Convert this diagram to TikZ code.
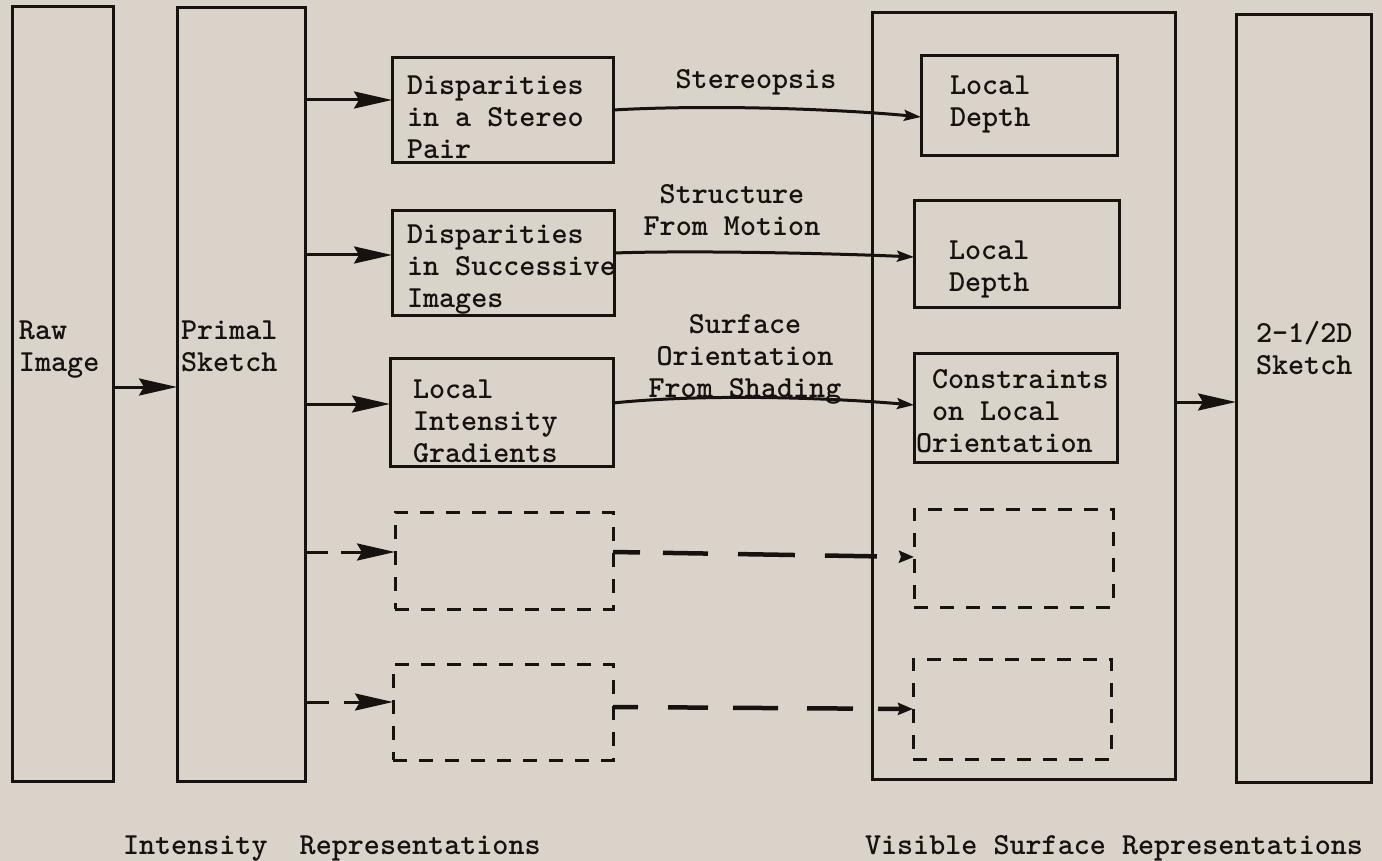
\documentclass[tikz,border=0pt]{standalone}
\usepackage{fontspec}
\newfontfamily\typew{lmmonolt10-bold}[Extension=.otf]
\usetikzlibrary{arrows.meta}
\definecolor{paper}{RGB}{217,211,202}
\definecolor{ink}{RGB}{22,18,16}
\begin{document}
\begin{tikzpicture}[x=1pt,y=-1pt,
  every node/.style={inner sep=0pt,outer sep=0pt},
  box/.style={draw=ink,line width=3pt,rectangle},
  dbox/.style={draw=ink,line width=3pt,rectangle,dash pattern=on 14pt off 12pt},
  txt/.style={font=\typew\fontsize{30.6}{32}\selectfont,text=ink,align=left,anchor=base west},
  ctxt/.style={font=\typew\fontsize{30.6}{32}\selectfont,text=ink,align=center,anchor=base},
  conn/.style={draw=ink,line width=3pt},
  bigtip/.style={-{Stealth[length=38pt,width=17pt,inset=5pt]}},
  smalltip/.style={-{Stealth[length=17pt,width=11pt,inset=3pt]}},
  tinytip/.style={-{Stealth[length=15pt,width=12pt,inset=2pt]}}
]
\fill[paper] (0,0) rectangle (1382,861);
\useasboundingbox (0,0) rectangle (1382,861);

% solid boxes
\node[box,minimum width=101pt,minimum height=774pt] (raw) at (62.5,394) {};
\node[box,minimum width=128pt,minimum height=773pt] (primal) at (241,394.5) {};
\node[box,minimum width=221pt,minimum height=105pt] (d1) at (502.5,110.5) {};
\node[box,minimum width=222pt,minimum height=104pt] (d2) at (503,263) {};
\node[box,minimum width=223pt,minimum height=108pt] (d3) at (501.5,412) {};
\node[box,minimum width=303pt,minimum height=766pt] (vis) at (1023.5,396) {};
\node[box,minimum width=196pt,minimum height=100pt] (ld1) at (1019,106) {};
\node[box,minimum width=205pt,minimum height=106pt] (ld2) at (1016.5,254) {};
\node[box,minimum width=203pt,minimum height=109pt] (con) at (1015.5,407.5) {};
\node[box,minimum width=135pt,minimum height=767pt] (sk) at (1303.5,398.5) {};

% dashed boxes
\node[dbox,minimum width=218pt,minimum height=97pt] (da) at (504,560.5) {};
\node[dbox,minimum width=220pt,minimum height=96pt] (db) at (503,712) {};
\node[dbox,minimum width=199pt,minimum height=98pt] (dc) at (1013.5,558) {};
\node[dbox,minimum width=198pt,minimum height=100pt] (dd) at (1012,709) {};

% texts (anchor = baseline of last line)
\node[txt] (traw) at (19,371) {Raw\\Image};
\node[txt] (tprimal) at (181,371) {Primal\\Sketch};
\node[txt] (td1) at (407,159) {Disparities\\in a Stereo\\Pair};
\node[txt] (td2) at (407,307) {Disparities\\in Successive\\Images};
\node[txt] (td3) at (413,462) {Local\\Intensity\\Gradients};
\node[txt] (tld1) at (950,127) {Local\\Depth};
\node[txt] (tld2) at (949,291) {Local\\Depth};
\node[txt] (tcon) at (916,452) {\ Constraints\\\ on Local\\Orientation};
\node[txt] (tsk) at (1256,374) {2-1/2D\\Sketch};

\node[ctxt] (lst) at (756,89) {Stereopsis};
\node[ctxt] (lsm) at (732,236) {Structure\\From Motion};
\node[ctxt] (lsh) at (745,397) {Surface\\Orientation\\From Shading};

\node[txt] (bint) at (123,854) {Intensity\ \ Representations};
\node[txt] (bvis) at (865,854) {Visible Surface Representations};

% arrows
\draw[conn,bigtip] (raw.east |- 0,387) -- (primal.west |- 0,387);
\draw[conn,bigtip] (primal.east |- 0,100) -- (d1.west |- 0,100);
\draw[conn,bigtip] (primal.east |- 0,255) -- (d2.west |- 0,255);
\draw[conn,bigtip] (primal.east |- 0,404) -- (d3.west |- 0,404);
\draw[conn,bigtip,dash pattern=on 23pt off 13pt on 200pt] (primal.east |- 0,552) -- (da.west |- 0,552);
\draw[conn,bigtip,dash pattern=on 24pt off 15pt on 200pt] (primal.east |- 0,702) -- (db.west |- 0,702);
\draw[conn,bigtip] (vis.east |- 0,402) -- (sk.west |- 0,402);

\draw[conn,smalltip] (d1.east |- 0,110) .. controls (720,104) and (850,110) .. (ld1.west |- 0,117);
\draw[conn,smalltip] (d2.east |- 0,253) .. controls (700,250) and (850,254) .. (ld2.west |- 0,257);
\draw[conn,smalltip] (d3.east |- 0,403) .. controls (700,394) and (820,397) .. (con.west |- 0,405);

\draw[conn,line width=4.5pt,tinytip,dash pattern=on 27pt off 23pt on 45pt off 30pt on 57pt off 30pt on 52pt off 25pt]
  (da.east |- 0,552) -- (dc.west |- 0,557);
\draw[conn,line width=4.5pt,tinytip,dash pattern=on 25pt off 30pt on 40pt off 25pt on 45pt off 29pt on 46pt off 25pt on 60pt]
  (db.east |- 0,707) -- (dd.west |- 0,709);
\end{tikzpicture}
\end{document}
